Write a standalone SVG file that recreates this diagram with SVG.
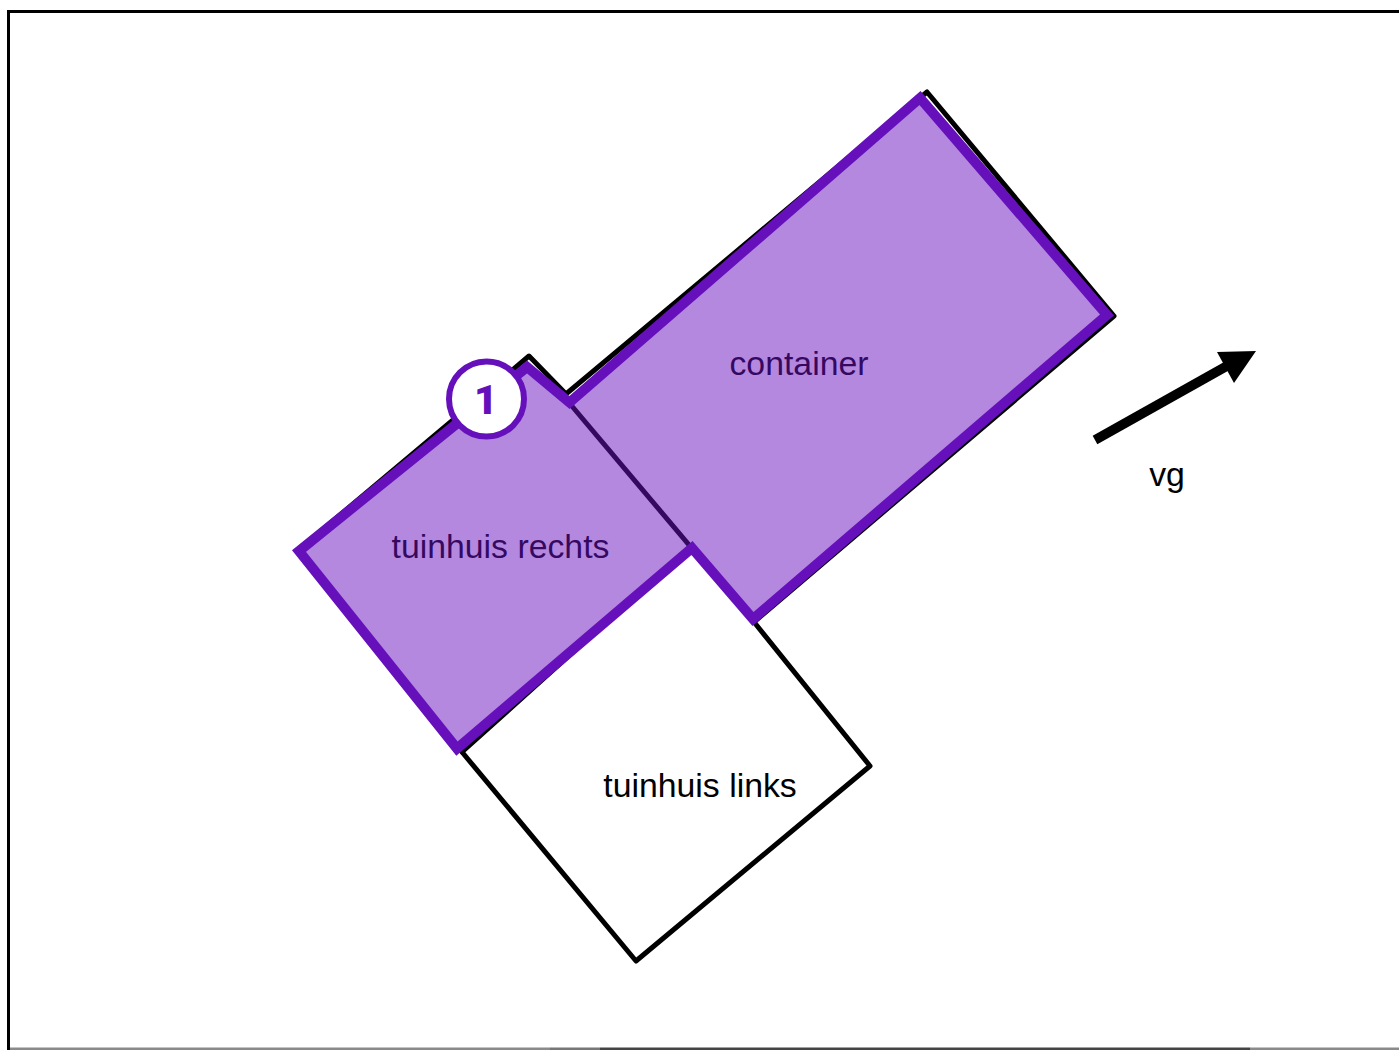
<svg xmlns="http://www.w3.org/2000/svg" width="1399" height="1050" viewBox="0 0 1399 1050">
<style>
.o{fill:none;stroke:#000;stroke-width:5;stroke-linejoin:round}
.t{font-family:"Liberation Sans",Arial,sans-serif;font-size:33.8px;fill:#000;text-anchor:middle}
</style>
<rect width="1399" height="1050" fill="#fff"/>
<g id="frame">
<path d="M8.500 1050V11.500H1399" fill="none" stroke="#000" stroke-width="3"/>
<rect x="10" y="1047.500" width="540" height="2.500" fill="#8a8a8a"/>
<rect x="550" y="1047.500" width="50" height="2.500" fill="#777"/>
<rect x="600" y="1047.500" width="650" height="2.500" fill="#444"/>
<rect x="1250" y="1047.500" width="149" height="2.500" fill="#8a8a8a"/>
</g>
<g id="container-outline"><path class="o" d="M566 394L927 92L1114 316L754 622L571 405"/></g>
<g id="tuinhuis-rechts-outline"><path class="o" d="M566 394L529 356L297 551L462 752L692 545"/></g>
<g id="tuinhuis-links"><path class="o" d="M754 622L870 766L636 961L462 752"/>
<text class="t" x="700" y="797">tuinhuis links</text></g>
<g id="label-container"><text class="t" x="799" y="375">container</text></g>
<g id="label-tuinhuis-rechts"><text class="t" x="500.500" y="558">tuinhuis rechts</text></g>
<g id="vg"><text class="t" x="1167" y="486">vg</text></g>
<g id="connectors">
<path d="M1095 440L1234 362" fill="none" stroke="#000" stroke-width="9.500"/>
<path d="M1217 352L1256 351L1234 383Z" fill="#000"/>
</g>
<g id="highlight"><path d="M920 98L1107 315L753 619L692 548L457 748.500L299 551L527 367L569.500 402.500Z" fill="#6a11c0" fill-opacity=".5" stroke="#6610bc" stroke-width="10"/></g>
<g id="badge-1">
<circle cx="486.500" cy="399" r="37.500" fill="#fff" stroke="#6610bc" stroke-width="6"/>
<text x="486" y="413.500" font-family="Roboto,'Liberation Sans',sans-serif" font-size="41" font-weight="900" fill="#6610bc" text-anchor="middle">1</text>
</g>
</svg>
